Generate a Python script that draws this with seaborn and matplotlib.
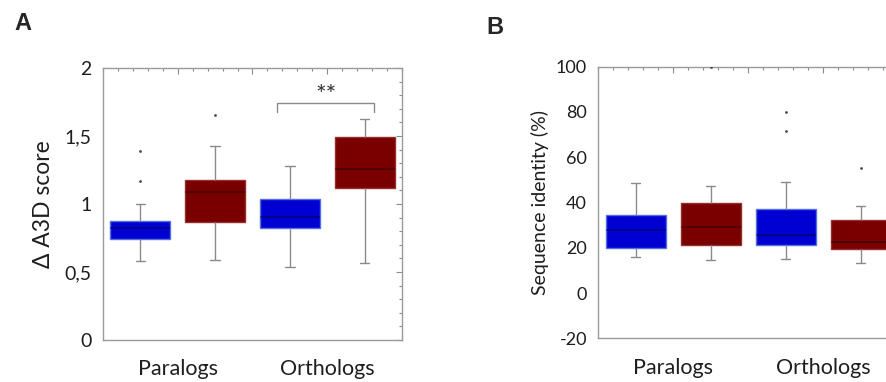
import numpy as np
import pandas as pd
import matplotlib
matplotlib.use("Agg")
import matplotlib.pyplot as plt
from matplotlib.ticker import FixedLocator
import seaborn as sns

# ---- data -------------------------------------------------------------
families = ["Paralogs", "Orthologs"]
subsets = ["set 1", "set 2"]
box_ids = [f"{f} {s}" for f in families for s in subsets]
box_colors = ["#0000d2", "#7a0000", "#0000d2", "#7a0000"]
edge_colors = ["#5470e0", "#952f2f", "#5470e0", "#952f2f"]

# Panel A: delta A3D score (whisker low, Q1, median, Q3, whisker high)
a3d_low = [0.58, 0.59, 0.535, 0.565]
a3d_q1 = [0.74, 0.87, 0.82, 1.12]
a3d_median = [0.82, 1.09, 0.905, 1.26]
a3d_q3 = [0.875, 1.18, 1.035, 1.49]
a3d_high = [1.00, 1.43, 1.28, 1.625]
a3d_outliers = [[1.39, 1.17], [1.655], [], []]
a3d_ticks = [0, 0.5, 1, 1.5, 2]
a3d_tick_labels = ["0", "0,5", "1", "1,5", "2"]
a3d_sig_pair = (2, 3)
a3d_sig_y = 1.74
a3d_sig_label = "**"

# Panel B: sequence identity (%)
ident_low = [15.9, 14.4, 15.2, 13.4]
ident_q1 = [20.0, 21.1, 21.1, 19.4]
ident_median = [27.8, 29.3, 25.5, 22.5]
ident_q3 = [34.5, 39.6, 37.0, 32.1]
ident_high = [48.7, 47.3, 49.0, 38.3]
ident_outliers = [[], [100.0], [79.8, 71.6], [55.3]]
ident_ticks = [-20, 0, 20, 40, 60, 80, 100]
ident_tick_labels = [str(t) for t in ident_ticks]

# ---- style ------------------------------------------------------------
sns.set_style("white")
plt.rcParams["font.family"] = ["Lato", "DejaVu Sans"]
FRAME = "#9a9a9a"
LINE = "#8a8a8a"
TXT = "#1e1e1e"


def summary_frame(low, q1, med, q3, high):
    rows = []
    for b, vals in zip(box_ids, zip(low, q1, med, q3, high)):
        for v in vals:
            rows.append({"box": b, "value": v})
    return pd.DataFrame(rows)


def outlier_frame(outliers):
    rows = [{"box": b, "value": v} for b, vals in zip(box_ids, outliers) for v in vals]
    return pd.DataFrame(rows)


def draw_panel(ax, low, q1, med, q3, high, outliers, ylim, ticks, tick_labels, minor_step,
               ylabel, tick_size, ylabel_size, ylabel_pad):
    df = summary_frame(low, q1, med, q3, high)
    sns.boxplot(
        data=df, x="box", y="value", order=box_ids, hue="box", hue_order=box_ids,
        palette=box_colors, saturation=1, width=0.8, whis=(0, 100), showfliers=False,
        linewidth=1.0, linecolor=LINE, legend=False, ax=ax,
        medianprops=dict(color="black", alpha=0.45, linewidth=1.1),
        capwidths=0.13,
    )
    for patch, ec in zip(ax.patches, edge_colors):
        patch.set_edgecolor(ec)
        patch.set_linewidth(1.0)
    odf = outlier_frame(outliers)
    sns.stripplot(data=odf, x="box", y="value", order=box_ids, jitter=False,
                  color="#4a4a4a", size=2.0, linewidth=0, ax=ax)

    n = len(box_ids)
    ax.set_xlim(-0.5, n - 0.5)
    ax.set_ylim(*ylim)
    fam_pos = [np.mean([i for i, b in enumerate(box_ids) if b.startswith(f)]) for f in families]
    ax.xaxis.set_major_locator(FixedLocator([fam_pos[0], (fam_pos[0] + fam_pos[1]) / 2, fam_pos[1]]))
    ax.set_xticklabels([families[0], "", families[1]])
    ax.xaxis.set_minor_locator(FixedLocator(np.arange(-0.5, n - 0.5 + 1e-9, 0.2)))
    ax.yaxis.set_major_locator(FixedLocator(ticks))
    ax.set_yticklabels(tick_labels)
    ax.yaxis.set_minor_locator(FixedLocator(np.arange(ylim[0], ylim[1] + 1e-9, minor_step)))
    ax.tick_params(which="both", direction="in", top=True, right=True, color=LINE, width=0.8)
    ax.tick_params(which="major", length=4)
    ax.tick_params(which="minor", length=2.5)
    ax.tick_params(axis="y", which="major", labelsize=tick_size, labelcolor=TXT, pad=8)
    ax.tick_params(axis="x", which="major", labelsize=15.5, labelcolor=TXT, pad=14)
    for sp in ax.spines.values():
        sp.set_visible(True)
        sp.set_color(FRAME)
        sp.set_linewidth(1.0)
    ax.set_xlabel("")
    ax.set_ylabel(ylabel, fontsize=ylabel_size, color=TXT, labelpad=ylabel_pad)


fig = plt.figure(figsize=(8.86, 3.82), dpi=100)
W, H = 886, 382
axA = fig.add_axes([103 / W, 1 - 340 / H, 299 / W, 272 / H])
axB = fig.add_axes([598 / W, 1 - 338.3 / H, 300 / W, 271.6 / H])

draw_panel(axA, a3d_low, a3d_q1, a3d_median, a3d_q3, a3d_high, a3d_outliers,
           (0, 2), a3d_ticks, a3d_tick_labels, 0.1, "Δ A3D score", 14, 16.5, 8)
draw_panel(axB, ident_low, ident_q1, ident_median, ident_q3, ident_high, ident_outliers,
           (-20, 100), ident_ticks, ident_tick_labels, 5, "Sequence identity (%)", 13, 14, 5)

# significance bracket between the two ortholog boxes
left = a3d_sig_pair[0] - 0.17
right = a3d_sig_pair[1] + 0.13
drop = 0.06
axA.plot([left, left, right, right], [a3d_sig_y - drop, a3d_sig_y, a3d_sig_y, a3d_sig_y - drop],
         color=LINE, linewidth=1.0, solid_joinstyle="miter")
axA.text((left + right) / 2, a3d_sig_y + 0.005, a3d_sig_label, ha="center", va="baseline",
         fontsize=18, color="#333333")

fig.text(23 / W, 1 - 24 / H, "A", fontsize=17, fontweight="bold", ha="center", va="center",
         family="Liberation Sans")
fig.text(495 / W, 1 - 28 / H, "B", fontsize=17, fontweight="bold", ha="center", va="center",
         family="Liberation Sans")

fig.savefig("out.png", dpi=100)
